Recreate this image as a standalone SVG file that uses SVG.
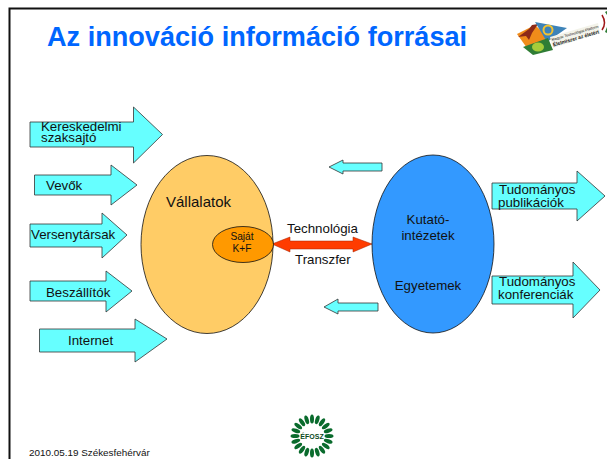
<svg xmlns="http://www.w3.org/2000/svg" width="607" height="459" viewBox="0 0 607 459">
<style>
text{font-family:"Liberation Sans",Arial,sans-serif;fill:#111}
.a{fill:#66ffff;stroke:#333;stroke-width:.8}
.e{stroke:#111;stroke-width:.8}
.t{font-size:13.3px}
.m{text-anchor:middle}
.l{fill:#0a6b2d;stroke:none}
</style>
<rect width="607" height="459" fill="#fff"/>
<path d="M607 8.500H9.500V459" fill="none" stroke="#111" stroke-width="2"/>
<text x="47" y="46" font-size="27.100" font-weight="700" style="fill:#0066ff">Az innováció információ forrásai</text>
<g id="logo">
<path d="M517 34l18-9 14 13-22 10z" fill="#f08c1a"/>
<path d="M518 37l11-8 3-4 6-1-6 9-3 7-3-4z" fill="#8c2a18"/>
<path d="M535 22l32 6-20 14z" fill="#3d83b8"/>
<circle cx="548" cy="30" r="4.500" fill="none" stroke="#f2c230" stroke-width="2"/>
<path d="M523 47l25-9 5 12-20 5z" fill="#2f7d35"/>
<ellipse cx="538" cy="47" rx="6" ry="4.500" fill="#a6cc3a"/>
<path d="M550 37l48-14 2 10-47 15z" fill="#f3f3ea"/>
<text transform="translate(552 41) rotate(-16)" font-size="3.700">Magyar Technológiai Platform</text>
<text transform="translate(553.500 46.500) rotate(-16)" font-size="5" font-weight="700">Élelmiszer az életért</text>
<path d="M602 15q5 8 0 15" fill="none" stroke="#a01818" stroke-width="1.500"/>
<path d="M605 12l2-1v4zM607 27l-2 5 2 1z" fill="#2f7d35"/>
</g>
<g id="connectors">
<path class="a" id="arrow-top-left" d="M329 167l14-7v3h39v8h-39v3z"/>
<path class="a" id="arrow-bottom-left" d="M324 307l14-8v4h40v8h-40v3z"/>
<path id="arrow-transfer" d="M272 244l18-7v4h63v-4l19 7-19 8v-3h-63v3z" fill="#ff3c00" stroke="#a02000" stroke-width=".5"/>
</g>
<g id="kereskedelmi"><path class="a" d="M30 122h103.500v-15l29 27.500-29 28.500v-16h-103.500z"/><text class="t" x="41" y="131">Kereskedelmi</text><text class="t" x="41" y="142">szaksajtó</text></g>
<g id="vevok"><path class="a" d="M34.500 175h76.500v-10l26 20-26 20v-10h-76.500z"/><text class="t" x="46" y="190">Vevők</text></g>
<g id="versenytarsak"><path class="a" d="M30 224h72v-11l25 22-25 23v-11h-72z"/><text class="t" x="31" y="239">Versenytársak</text></g>
<g id="beszallitok"><path class="a" d="M30 281h76v-10l26 20-26 21v-11h-76z"/><text class="t" x="46" y="297">Beszállítók</text></g>
<g id="internet"><path class="a" d="M39.500 329h95.500v-10l32 20-32 23v-10h-95.500z"/><text class="t" x="68" y="345">Internet</text></g>
<g id="vallalatok"><ellipse class="e" cx="207" cy="244.500" rx="66" ry="89" fill="#ffcc66"/><text x="166" y="207" font-size="15">Vállalatok</text></g>
<g id="sajat"><ellipse class="e" cx="243" cy="244.500" rx="30.500" ry="18" fill="#ff9900"/><text class="m" x="242" y="240" font-size="10.200">Saját</text><text class="m" x="242" y="252" font-size="10.200">K+F</text></g>
<g id="kutato"><ellipse class="e" cx="433" cy="244" rx="61" ry="89" fill="#3399ff"/><text class="m t" x="428" y="224">Kutató-</text><text class="m t" x="428" y="240">intézetek</text><text class="m t" x="428" y="290">Egyetemek</text></g>
<g id="publikaciok"><path class="a" d="M492 183h85v-12l28 25-28 25v-12h-85z"/><text class="t" x="499" y="194">Tudományos</text><text class="t" x="498" y="207">publikációk</text></g>
<g id="konferenciak"><path class="a" d="M492 276h81v-14l27 28-27 28v-14h-81z"/><text class="t" x="499" y="286">Tudományos</text><text class="t" x="498" y="299">konferenciák</text></g>
<text class="t" x="287" y="233">Technológia</text>
<text class="t" x="295" y="264">Transzfer</text>
<g id="efosz">
<g class="l"><ellipse cx="312" cy="419" rx="2" ry="4.500"/><ellipse cx="312" cy="419" rx="2" ry="4.500" transform="rotate(18 312 436)"/><ellipse cx="312" cy="419" rx="2" ry="4.500" transform="rotate(36 312 436)"/><ellipse cx="312" cy="419" rx="2" ry="4.500" transform="rotate(54 312 436)"/><ellipse cx="312" cy="419" rx="2" ry="4.500" transform="rotate(72 312 436)"/><ellipse cx="312" cy="419" rx="2" ry="4.500" transform="rotate(90 312 436)"/><ellipse cx="312" cy="419" rx="2" ry="4.500" transform="rotate(108 312 436)"/><ellipse cx="312" cy="419" rx="2" ry="4.500" transform="rotate(126 312 436)"/><ellipse cx="312" cy="419" rx="2" ry="4.500" transform="rotate(144 312 436)"/><ellipse cx="312" cy="419" rx="2" ry="4.500" transform="rotate(162 312 436)"/><ellipse cx="312" cy="419" rx="2" ry="4.500" transform="rotate(180 312 436)"/><ellipse cx="312" cy="419" rx="2" ry="4.500" transform="rotate(198 312 436)"/><ellipse cx="312" cy="419" rx="2" ry="4.500" transform="rotate(216 312 436)"/><ellipse cx="312" cy="419" rx="2" ry="4.500" transform="rotate(234 312 436)"/><ellipse cx="312" cy="419" rx="2" ry="4.500" transform="rotate(252 312 436)"/><ellipse cx="312" cy="419" rx="2" ry="4.500" transform="rotate(270 312 436)"/><ellipse cx="312" cy="419" rx="2" ry="4.500" transform="rotate(288 312 436)"/><ellipse cx="312" cy="419" rx="2" ry="4.500" transform="rotate(306 312 436)"/><ellipse cx="312" cy="419" rx="2" ry="4.500" transform="rotate(324 312 436)"/><ellipse cx="312" cy="419" rx="2" ry="4.500" transform="rotate(342 312 436)"/></g>
<text class="m" x="312" y="439" font-size="7" font-weight="700" style="fill:#0a4a22">ÉFOSZ</text>
</g>
<text x="29" y="456" font-size="9.900">2010.05.19 Székesfehérvár</text>
</svg>
